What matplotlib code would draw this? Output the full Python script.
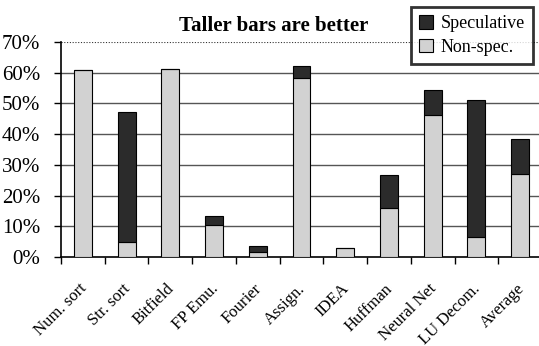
import matplotlib
matplotlib.use("Agg")
from matplotlib import pyplot as plt
from matplotlib.transforms import ScaledTranslation
import numpy as np

categories = ["Num. sort", "Str. sort", "Bitfield", "FP Emu.", "Fourier", "Assign.",
              "IDEA", "Huffman", "Neural Net", "LU Decom.", "Average"]
non_spec = [60.8, 4.8, 61.3, 10.5, 1.5, 58.2, 2.9, 15.8, 46.1, 6.5, 26.9]
speculative = [0.0, 42.3, 0.0, 3.0, 2.1, 4.0, 0.0, 10.8, 8.2, 44.5, 11.4]
yticks = [0, 10, 20, 30, 40, 50, 60, 70]

plt.rcParams["font.family"] = ["Liberation Serif", "DejaVu Serif"]

fig = plt.figure(figsize=(5.39, 3.46), dpi=100)
ax = fig.add_axes([61 / 539, 89 / 346, 481 / 539, 215 / 346])

x = np.arange(len(categories))
ax.bar(x, non_spec, width=0.41, color="#d2d2d2", edgecolor="black", linewidth=0.8,
       label="Non-spec.", zorder=3)
ax.bar(x, speculative, width=0.41, bottom=non_spec, color="#2b2b2b", edgecolor="black",
       linewidth=0.8, label="Speculative", zorder=3)

ax.set_xlim(-0.5, len(categories) - 0.5)
ax.set_ylim(0, 70)
ax.set_yticks(yticks)
ax.set_yticklabels([f"{v}%" for v in yticks], fontsize=15)
ax.tick_params(axis="y", length=5, width=1, direction="out", pad=10)
for v in yticks[1:-1]:
    ax.axhline(v, color="#555555", linewidth=1, zorder=1)
ax.axhline(70, color="#333333", linewidth=0.8, linestyle=(0, (1, 1.5)), zorder=1)

# ticks sit between categories, labels hang under the bars
ax.set_xticks(np.arange(len(categories) + 1) - 0.5)
ax.set_xticklabels([])
ax.set_xticks(x, minor=True)
ax.set_xticklabels(categories, minor=True, rotation=45, ha="right", va="top",
                   rotation_mode="anchor", fontsize=12)
ax.tick_params(axis="x", which="minor", length=0, pad=17)
ax.tick_params(axis="x", which="major", length=5, width=1, direction="out")
shift = ScaledTranslation(-4 / 100, 0, fig.dpi_scale_trans)
for lab in ax.get_xticklabels(minor=True):
    lab.set_transform(lab.get_transform() + shift)

for side in ["top", "right"]:
    ax.spines[side].set_visible(False)
ax.spines["left"].set_linewidth(1.2)
ax.spines["bottom"].set_linewidth(1.2)

fig.text(0.507, 0.926, "Taller bars are better", ha="center", va="center",
         fontsize=15, fontweight="bold")

handles, labels = ax.get_legend_handles_labels()
leg = fig.legend(handles[::-1], labels[::-1], loc="upper right",
                 bbox_to_anchor=(533 / 539, 1 - 7 / 346), borderaxespad=0,
                 fontsize=13, frameon=True, fancybox=False, handlelength=0.8,
                 handleheight=0.8, handletextpad=0.4, borderpad=0.45,
                 labelspacing=0.35)
leg.get_frame().set_edgecolor("black")
leg.get_frame().set_linewidth(2)

fig.savefig("out.png", dpi=100)
